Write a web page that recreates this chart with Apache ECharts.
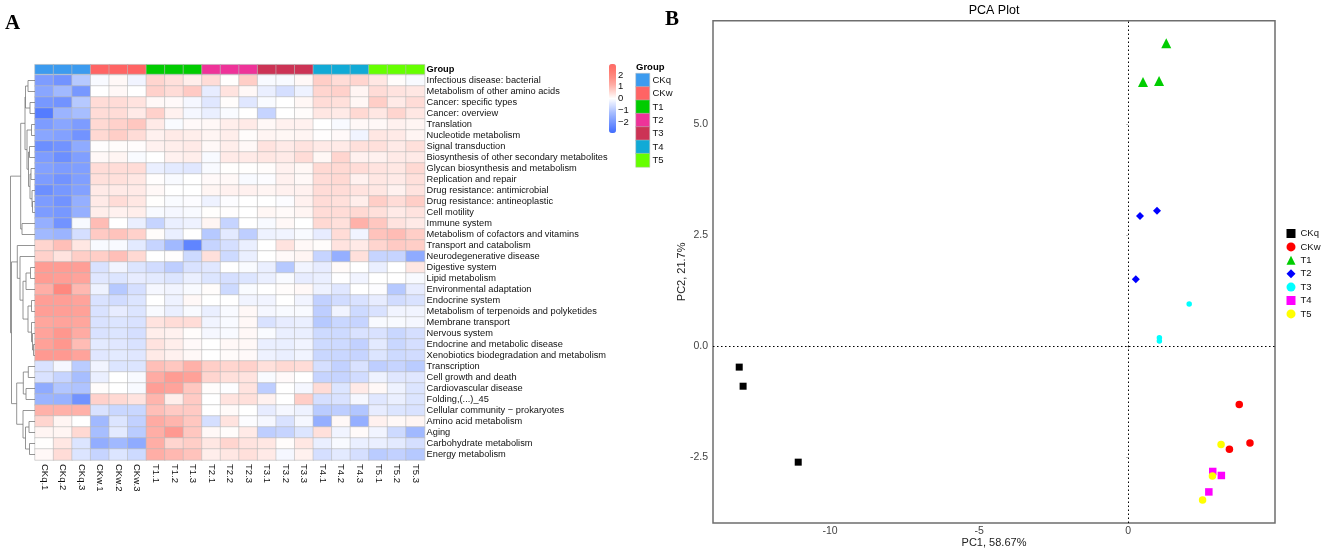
<!DOCTYPE html>
<html><head><meta charset="utf-8">
<script src="https://cdn.jsdelivr.net/npm/echarts@6/dist/echarts.min.js"></script>
<style>html,body{margin:0;padding:0;background:#fff}#c{width:1325px;height:554px}</style>
</head><body><div id="c"></div>
<script>
const sampleLabels=["CKq.1","CKq.2","CKq.3","CKw.1","CKw.2","CKw.3","T1.1","T1.2","T1.3","T2.1","T2.2","T2.3","T3.1","T3.2","T3.3","T4.1","T4.2","T4.3","T5.1","T5.2","T5.3"];
const groupNames=["CKq","CKw","T1","T2","T3","T4","T5"];
const groupColors=["#3C9BEF","#FF6464","#00CC00","#EE3399","#CC3355","#11AAD6","#66FF00"];
const rowLabels=["Infectious disease: bacterial","Metabolism of other amino acids","Cancer: specific types","Cancer: overview","Translation","Nucleotide metabolism","Signal transduction","Biosynthesis of other secondary metabolites","Glycan biosynthesis and metabolism","Replication and repair","Drug resistance: antimicrobial","Drug resistance: antineoplastic","Cell motility","Immune system","Metabolism of cofactors and vitamins","Transport and catabolism","Neurodegenerative disease","Digestive system","Lipid metabolism","Environmental adaptation","Endocrine system","Metabolism of terpenoids and polyketides","Membrane transport","Nervous system","Endocrine and metabolic disease","Xenobiotics biodegradation and metabolism","Transcription","Cell growth and death","Cardiovascular disease","Folding,(...)_45","Cellular community \u2212 prokaryotes","Amino acid metabolism","Aging","Carbohydrate metabolism","Energy metabolism"];
const heatValues=[
[-1.9,-2.1,-1.0,-0.1,0.1,-0.2,0.6,0.45,0.25,0.5,0.02,0.7,-0.1,-0.1,0.1,0.7,0.5,0.6,0.35,0.05,-0.1],
[-1.7,-1.3,-2.0,0,0.1,0,0.65,0.5,0.75,-0.35,0.4,0.1,-0.3,-0.6,-0.25,0.6,0.65,0.15,0.5,0.4,0.35],
[-2.0,-2.1,-1.0,0.5,0.5,0.4,0.1,0.08,-0.15,-0.45,0.05,-0.45,-0.08,0,0.12,0.5,0.45,0.12,0.7,0.3,0.5],
[-2.6,-1.4,-1.2,0.5,0.5,0.3,0.65,0.2,-0.15,-0.3,-0.08,0,-0.8,0,0.05,0.35,0.3,0.55,0.35,0.6,0.35],
[-1.9,-1.7,-1.9,0.55,0.65,0.8,0.3,-0.08,0.08,0.1,0.25,0.3,0.1,0.2,0.2,0,-0.1,0.1,0.1,0.2,0.15],
[-1.7,-1.8,-2.1,0.55,0.7,0.5,0.2,0.3,0.25,0.15,0.25,0.05,0.15,0.12,0.15,0.03,0.08,-0.2,0.35,0.3,0.15],
[-2.2,-2.1,-1.6,0.03,0.05,0.04,0.2,0.25,0.3,0.1,0.25,0.1,0.4,0.3,0.4,0.3,0.3,0.45,0.45,0.3,0.45],
[-1.9,-2.2,-1.85,0.1,0.15,-0.08,0,0.2,0.25,-0.1,0.3,0.3,0.35,0.3,0.5,0.12,0.6,0.2,0.2,0.3,0.3],
[-1.8,-1.9,-1.85,0.5,0.5,0.5,-0.3,-0.4,-0.45,-0.1,0.02,0.02,0.05,0.2,0.12,0.55,0.55,0.5,0.4,0.35,0.55],
[-1.9,-2.1,-1.85,0.45,0.45,0.35,0.03,-0.1,0,0.08,0.1,-0.1,-0.05,0.2,0.1,0.5,0.55,0.2,0.35,0.3,0.45],
[-2.2,-2.0,-1.8,0.3,0.3,0.3,0.1,0,0,0.15,0.2,0.2,0.15,0.2,0.2,0.5,0.5,0.4,0.35,0.2,0.4],
[-1.9,-2.1,-1.5,0.3,0.5,0.35,0.02,-0.08,-0.05,-0.25,-0.05,0,0,-0.05,0.2,0.5,0.45,0.25,0.7,0.5,0.7],
[-1.9,-2.0,-1.5,0.25,0.2,0.25,-0.1,-0.15,-0.1,0.02,0.03,0,0.12,0.07,0.15,0.5,0.5,0.55,0.45,0.3,0.4],
[-1.5,-2.1,-0.1,0.95,0,-0.3,-0.8,-0.3,-0.25,0.15,-0.8,0,-0.1,0.1,0,0.55,0.45,1.1,0.8,0.4,0.3],
[-1.3,-1.4,-0.6,0.75,0.85,0.65,0.05,-0.3,0,-1.0,-0.4,-0.9,-0.25,-0.2,-0.1,-0.35,0.5,-0.2,0.85,0.95,0.7],
[0.6,0.9,0.35,-0.1,-0.1,-0.4,-0.8,-1.3,-2.4,-0.8,-0.6,-0.3,0,0.4,0.1,0.05,0.4,0.3,0.6,0.75,0.7],
[0.65,0.4,0.7,0.7,0.9,0.55,0,0.03,-0.7,0.45,-0.7,-0.3,0,0.08,0.15,-0.8,-1.5,0.45,-0.8,-0.8,-1.6],
[1.5,1.5,1.45,-0.55,-0.2,-0.5,-0.65,-0.9,-0.55,-0.45,0,-0.08,-0.3,-1.0,-0.2,-0.35,0.07,0,-0.3,0,0.35],
[1.5,1.45,1.35,-0.45,-0.5,-0.35,-0.4,-0.5,-0.3,-0.5,-0.6,-0.5,-0.3,-0.1,-0.35,-0.3,-0.02,-0.2,0,0,-0.1],
[1.15,1.95,1.0,-0.25,-1.0,-0.6,-0.15,-0.2,-0.1,0.05,-0.7,-0.08,0,0.05,0.1,-0.25,-0.45,0,-0.05,-1.0,-0.35],
[1.45,1.45,1.35,-0.55,-0.65,-0.5,0,-0.25,0.1,0,0,-0.2,-0.2,0,-0.2,-0.85,-0.65,-0.55,-0.35,-0.65,-0.55],
[1.45,1.45,1.4,-0.55,-0.35,-0.5,-0.1,-0.3,-0.1,-0.3,-0.1,0.1,-0.15,-0.1,-0.1,-0.9,-0.2,-0.7,-0.55,-0.2,-0.2],
[1.3,1.35,1.3,-0.55,-0.5,-0.55,0.4,0.5,0.5,-0.2,-0.1,0.1,-0.55,-0.35,-0.3,-1.0,-0.75,-0.8,-0.1,-0.1,-0.15],
[1.35,1.6,1.2,-0.55,-0.5,-0.6,0.25,0.2,0.05,-0.15,-0.1,0.1,-0.08,-0.3,-0.3,-0.7,-0.7,-0.55,-0.55,-0.75,-0.6],
[1.4,1.6,0.95,-0.4,-0.45,-0.55,0.4,0.25,0.08,0,0.1,0.1,-0.3,-0.3,-0.2,-0.7,-0.7,-0.85,-0.4,-0.75,-0.6],
[1.55,1.55,1.35,-0.45,-0.4,-0.45,0.3,0.2,0.1,0,0.06,0.08,-0.25,-0.3,-0.2,-0.75,-0.75,-0.8,-0.5,-0.7,-0.65],
[-0.55,-0.15,-0.95,-0.2,-0.5,-0.5,0.9,0.8,1.1,0.7,0.6,0.65,0.45,0.55,0.5,-0.6,-0.85,-0.55,-0.9,-0.8,-0.95],
[-0.55,-0.8,-1.2,-0.3,0,-0.1,1.2,1.5,1.4,0.6,0.45,0.4,-0.08,0.08,0,-0.8,-0.8,-0.65,-0.25,-0.45,-0.45],
[-1.6,-1.05,-1.1,0.05,0,-0.1,1.45,1.35,0.8,0.05,-0.03,0.4,-0.9,0,-0.15,0.5,-0.5,0.3,0.1,-0.25,-0.5],
[-1.4,-1.45,-2.1,0.65,0.55,0.4,1.05,0.25,0.75,0,0.4,0.45,0.2,0,0.7,-0.6,-0.55,-0.15,-0.45,-0.3,-0.5],
[1.1,1.1,1.1,-0.55,-0.75,-0.75,0.9,0.75,0.75,0,0.07,0,-0.35,-0.15,-0.25,-0.95,-0.9,-1.05,-0.35,-0.5,-0.55],
[0.6,0.15,0,-1.3,-0.5,-0.85,1.2,1.05,0.8,-0.6,0.4,-0.05,-0.15,-0.55,-0.15,-1.5,0.1,-1.5,0.2,0.1,0.15],
[0.15,0.15,0.55,-1.2,-0.4,-0.95,1.15,1.55,0.8,0.1,0.05,0.3,-0.9,-0.8,-0.5,0.45,-0.2,0.07,-0.2,-0.7,-1.3],
[0.02,0.35,-0.5,-1.55,-1.3,-1.6,1.15,0.6,0.7,0.35,0.6,0.4,0.35,0.05,0.35,-0.3,-0.1,-0.3,-0.3,-0.4,-0.6],
[0.1,0.5,-0.5,-0.8,-0.5,-0.7,1.15,1.0,0.85,0.25,0.35,0.45,0.3,-0.15,0.2,-0.6,-0.4,-0.6,-0.95,-0.85,-1.0]
];
const heatColors=["#3f6cff","#6488ff","#85a3ff","#a9bfff","#d6e0ff","#ffffff","#ffd6d0","#ffaca4","#ff8f86","#ff7a70","#ff6a66"];
const heatTicks=[-2,-1,0,1,2];
// Row dendrogram: [height, childA, childB], a number is a 1-based row
const n1to13=[10,[9.5,[7,1,2],[5,3,4]],[8,[3.5,5,6],[6.5,[5.5,7,8],[5,[4,9,10],[3,11,[2.5,12,13]]]]]];
const clusterA=[14.3,n1to13,[13,14,15]];
const clusterB=[17.7,16,[15,17,[12,[9,[4.5,18,19],20],[7,[3.5,21,22],[3.5,23,[2.5,24,[1.5,25,26]]]]]]];
const clusterD=[18.3,[11.7,[6.7,27,28],[9,29,30]],[12,31,[9.5,[6,32,33],[5.5,34,35]]]];
const rowTree=[24.5,clusterA,[23.5,clusterB,clusterD]];
// PCA scores [PC1, PC2]
const pcaCKq=[[-13.05,-0.47],[-12.92,-0.9],[-11.07,-2.61]];
const pcaCKw=[[3.73,-1.31],[4.09,-2.18],[3.40,-2.32]];
const pcaT1=[[1.28,6.82],[0.50,5.95],[1.04,5.97]];
const pcaT2=[[0.40,2.93],[0.97,3.05],[0.26,1.51]];
const pcaT3=[[2.05,0.95],[1.05,0.19],[1.05,0.12]];
const pcaT4=[[2.84,-2.82],[3.13,-2.91],[2.71,-3.28]];
const pcaT5=[[3.12,-2.21],[2.83,-2.92],[2.5,-3.46]];
const xTicks=[-10,-5,0];
const yTicks=[-2.5,0,2.5,5];

const FONT='"Liberation Sans",Arial,sans-serif';
const cellBorder={borderColor:'#bbbbbb',borderWidth:0.6};
const groupOfSample=s=>groupNames.indexOf(s.split('.')[0]);

const segs=[];
(function walk(n){
  if(typeof n==='number') return {h:0,y:n-0.5};
  const a=walk(n[1]),b=walk(n[2]),h=n[0];
  segs.push([a.h,a.y,h,a.y],[b.h,b.y,h,b.y],[h,a.y,h,b.y]);
  return {h:h,y:(a.y+b.y)/2};
})(rowTree);

const heatData=[];
heatValues.forEach((r,i)=>r.forEach((v,j)=>heatData.push([j,i,v])));

const pcaSeries=[
 ['CKq',pcaCKq,'rect',7,'#000000'],
 ['CKw',pcaCKw,'circle',7.5,'#ff0000'],
 ['T1',pcaT1,'triangle',10,'#00cd00'],
 ['T2',pcaT2,'diamond',8,'#0000ff'],
 ['T3',pcaT3,'circle',5.5,'#00ffff'],
 ['T4',pcaT4,'rect',7.5,'#ff00ff'],
 ['T5',pcaT5,'circle',7.5,'#ffff00']
].map((s,i)=>({
  type:'scatter',name:s[0],data:s[1],symbol:s[2],symbolSize:s[3],clip:false,
  itemStyle:{color:s[4],opacity:1},xAxisIndex:4,yAxisIndex:4,z:3,
  ...(i===0?{markLine:{silent:true,symbol:'none',label:{show:false},animation:false,
    lineStyle:{color:'#000',type:[1.5,2.5],width:1},data:[{xAxis:0},{yAxis:0}]}}:{})
}));

const noBounds={outerBoundsMode:'none'};
const chart=echarts.init(document.getElementById('c'),null,{renderer:'canvas'});
chart.setOption({
 animation:false,backgroundColor:'#fff',
 textStyle:{fontFamily:FONT},
 title:[
  {text:'A',left:5,top:13,padding:0,textStyle:{fontFamily:'"Liberation Serif",serif',fontWeight:'bold',fontSize:21,color:'#000'}},
  {text:'B',left:665,top:9,padding:0,textStyle:{fontFamily:'"Liberation Serif",serif',fontWeight:'bold',fontSize:21,color:'#000'}},
  {text:'PCA Plot',left:994,top:4,padding:0,textAlign:'center',textStyle:{fontFamily:FONT,fontWeight:'normal',fontSize:12.5,color:'#000'}},
  {text:'Group',left:636,top:62.5,padding:0,textStyle:{fontFamily:FONT,fontWeight:'bold',fontSize:9.5,color:'#000'}}
 ],
 grid:[
  {left:35,top:75,width:389.6,height:385,...noBounds},
  {left:35,top:64.7,width:389.6,height:9.3,...noBounds},
  {left:5,top:75,width:30,height:385,...noBounds},
  {left:636,top:73.5,width:13.5,height:93.5,...noBounds},
  {left:713,top:20.7,width:562,height:502.3,show:true,borderColor:'#6e6e6e',borderWidth:1.5,...noBounds},
  {left:609,top:64,width:7,height:69,...noBounds}
 ],
 xAxis:[
  {type:'category',gridIndex:0,data:sampleLabels,position:'bottom',axisLine:{show:false},axisTick:{show:false},
   axisLabel:{rotate:-90,interval:0,fontSize:9.5,color:'#111',margin:4}},
  {type:'category',gridIndex:1,data:sampleLabels,axisLine:{show:false},axisTick:{show:false},axisLabel:{show:false}},
  {type:'value',gridIndex:2,min:0,max:30,inverse:true,show:false},
  {type:'category',gridIndex:3,data:['g'],axisLine:{show:false},axisTick:{show:false},axisLabel:{show:false}},
  {type:'value',gridIndex:4,min:-13.93,max:4.93,splitLine:{show:false},axisLine:{show:false},
   name:'PC1, 58.67%',nameLocation:'middle',nameGap:12.5,nameMoveOverlap:false,nameTextStyle:{fontSize:11,color:'#222',padding:[2,0,0,0]},
   axisTick:{show:true,length:2,lineStyle:{color:'#bbb'},customValues:xTicks},
   axisLabel:{fontSize:10.5,color:'#444',margin:3,customValues:xTicks}},
  {type:'value',gridIndex:5,min:0,max:1,show:false}
 ],
 yAxis:[
  {type:'category',gridIndex:0,data:rowLabels,inverse:true,position:'right',axisLine:{show:false},axisTick:{show:false},
   axisLabel:{interval:0,fontSize:9.25,color:'#111',margin:2}},
  {type:'category',gridIndex:1,data:['Group'],position:'right',axisLine:{show:false},axisTick:{show:false},
   axisLabel:{fontSize:9.25,fontWeight:'bold',color:'#000',margin:2}},
  {type:'value',gridIndex:2,min:0,max:35,inverse:true,show:false},
  {type:'category',gridIndex:3,data:groupNames,inverse:true,position:'right',axisLine:{show:false},axisTick:{show:false},
   axisLabel:{fontSize:9.5,color:'#111',margin:3}},
  {type:'value',gridIndex:4,min:-3.98,max:7.33,splitLine:{show:false},axisLine:{show:false},
   name:'PC2, 21.7%',nameLocation:'middle',nameGap:26,nameMoveOverlap:false,nameTextStyle:{fontSize:11,color:'#222'},
   axisTick:{show:true,length:2,lineStyle:{color:'#bbb'},customValues:yTicks},
   axisLabel:{fontSize:10.5,color:'#444',margin:5,customValues:yTicks,formatter:v=>v.toFixed(1)}},
  {type:'value',gridIndex:5,min:-2.93,max:2.93,position:'right',splitLine:{show:false},axisLine:{show:false},axisTick:{show:false},
   axisLabel:{fontSize:9.5,color:'#111',margin:2,customValues:heatTicks,formatter:v=>String(v).replace('-','\u2212')}}
 ],
 visualMap:[{type:'continuous',seriesIndex:0,min:-2.93,max:2.93,calculable:false,realtime:false,left:609,top:64,
   itemWidth:7,itemHeight:69,padding:0,text:null,show:true,inRange:{color:heatColors},textStyle:{fontSize:0,color:'transparent'}}],
 legend:{orient:'vertical',left:1286.5,top:228.5,itemWidth:9,itemHeight:9,itemGap:3.4,
   data:groupNames,textStyle:{fontFamily:FONT,fontSize:9.5,color:'#111'},
   selectedMode:false,formatter:n=>n,padding:0},
 series:[
  {type:'heatmap',data:heatData,xAxisIndex:0,yAxisIndex:0,itemStyle:cellBorder,emphasis:{disabled:true},progressive:0},
  {type:'heatmap',xAxisIndex:1,yAxisIndex:1,emphasis:{disabled:true},
   data:sampleLabels.map((s,j)=>({value:[j,0,groupOfSample(s)],itemStyle:{color:groupColors[groupOfSample(s)],...cellBorder}}))},
  {type:'custom',xAxisIndex:2,yAxisIndex:2,silent:true,data:segs,clip:false,
   renderItem:(p,api)=>{
     const a=api.coord([api.value(0),api.value(1)]),b=api.coord([api.value(2),api.value(3)]);
     return {type:'line',shape:{x1:a[0],y1:a[1],x2:b[0],y2:b[1]},style:{stroke:'#7a7a7a',lineWidth:0.8,fill:null}};
   },encode:{x:[0,2],y:[1,3]}},
  {type:'heatmap',xAxisIndex:3,yAxisIndex:3,emphasis:{disabled:true},
   data:groupNames.map((g,i)=>({value:[0,i,i],itemStyle:{color:groupColors[i],borderColor:'#bbbbbb',borderWidth:0.5}}))},
  ...pcaSeries
 ]
});
</script></body></html>
